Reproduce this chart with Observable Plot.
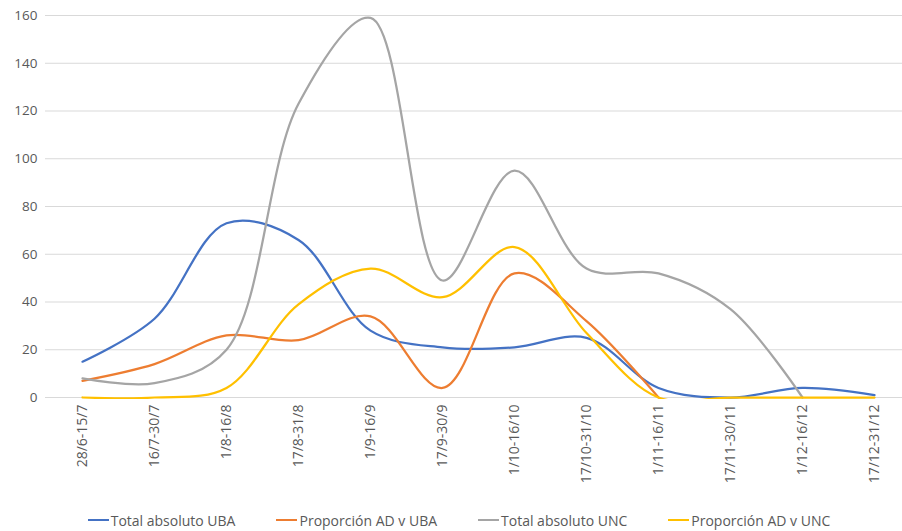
<!DOCTYPE html>
<html>
<head>
<meta charset="utf-8">
<script src="https://cdn.jsdelivr.net/npm/d3@7"></script>
<script src="https://cdn.jsdelivr.net/npm/@observablehq/plot@0.6"></script>
<style>
  html, body { margin: 0; padding: 0; background: #fff; }
  body { width: 902px; height: 531px; overflow: hidden; font-family: "Open Sans", sans-serif; }
  #legend { display: flex; justify-content: center; gap: 41px; height: 26px; align-items: center; font-size: 14px; color: #595959; padding-left: 16px; padding-top: 5px; }
  #legend .item { display: flex; align-items: center; }
  #legend .sw { width: 21px; height: 2px; margin-right: 2px; }
</style>
</head>
<body>
<div id="chart"></div>
<div id="legend"></div>
<script>
const categories = ["28/6-15/7", "16/7-30/7", "1/8-16/8", "17/8-31/8", "1/9-16/9", "17/9-30/9", "1/10-16/10", "17/10-31/10", "1/11-16/11", "17/11-30/11", "1/12-16/12", "17/12-31/12"];
const seriesNames = ["Total absoluto UBA", "Proporción AD v UBA", "Total absoluto UNC", "Proporción AD v UNC"];
const totalUBA = [15, 33, 73, 66, 28, 21, 21, 25, 4, 0, 4, 1];
const propUBA = [7, 14, 26, 24, 34, 4, 52, 32, 0, null, null, null];
const totalUNC = [8, 6, 20, 123, 159, 49, 95, 54, 52, 37, 0, null];
const propUNC = [0, 0, 4, 39, 54, 42, 63, 27, 0, 0, 0, 0];
const colors = ["#4472C4", "#ED7D31", "#A5A5A5", "#FFC000"];
const yTicks = [0, 20, 40, 60, 80, 100, 120, 140, 160];

const allSeries = [totalUBA, propUBA, totalUNC, propUNC];
const data = [];
allSeries.forEach((vals, s) => {
  vals.forEach((v, i) => data.push({series: seriesNames[s], cat: categories[i], value: v}));
});

const chart = Plot.plot({
  width: 902,
  height: 502,
  marginTop: 13,
  marginBottom: 103,
  marginLeft: 45,
  marginRight: 0,
  style: {fontFamily: "Open Sans, sans-serif", color: "#595959", background: "#fff"},
  x: {type: "point", domain: categories, range: [81, 874], padding: 0, label: null},
  y: {domain: [0, 160], range: [397, 15], label: null},
  marks: [
    Plot.ruleY(yTicks, {stroke: "#d9d9d9", strokeWidth: 1}),
    Plot.axisY({ticks: yTicks, tickSize: 0, tickPadding: 8, fontSize: 13.5, label: null}),
    Plot.axisX({tickSize: 0, tickPadding: 5, tickRotate: -90, fontSize: 14, label: null}),
    ...seriesNames.map((name, s) => Plot.line(data.filter(d => d.series === name), {
      x: "cat", y: "value", stroke: colors[s], strokeWidth: 2.25, curve: "catmull-rom",
      defined: d => d.value != null, clip: true
    }))
  ]
});
document.getElementById("chart").appendChild(chart);

const legend = document.getElementById("legend");
seriesNames.forEach((name, s) => {
  const item = document.createElement("div");
  item.className = "item";
  const sw = document.createElement("div");
  sw.className = "sw";
  sw.style.background = colors[s];
  const t = document.createElement("span");
  t.textContent = name;
  item.appendChild(sw);
  item.appendChild(t);
  legend.appendChild(item);
});
</script>
</body>
</html>
